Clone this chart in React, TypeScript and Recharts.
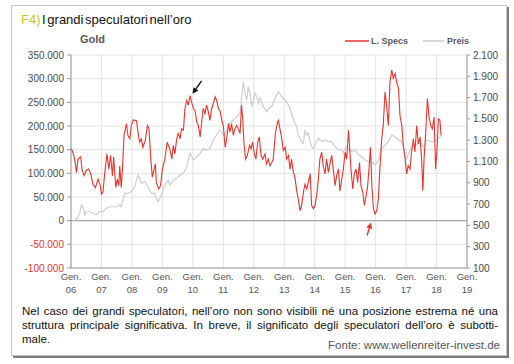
import React from 'react';
import { LineChart, Line, XAxis, YAxis, CartesianGrid, ReferenceLine, ReferenceDot } from 'recharts';

// axis ticks
const yearTicks = [2006, 2007, 2008, 2009, 2010, 2011, 2012, 2013, 2014, 2015, 2016, 2017, 2018, 2019];
const specsTicks = [-100, -50, 0, 50, 100, 150, 200, 250, 300, 350]; // thousands of contracts
const priceTicks = [100, 300, 500, 700, 900, 1100, 1300, 1500, 1700, 1900, 2100];

// large speculators net position (thousands)
const specsYears = [
  2006.01, 2006.07, 2006.12, 2006.18, 2006.23, 2006.32, 2006.36, 2006.43, 2006.5, 2006.58, 2006.65, 2006.72, 2006.8, 2006.89, 2006.96,
  2007.0, 2007.05, 2007.11, 2007.18, 2007.24, 2007.3, 2007.36, 2007.4, 2007.47, 2007.52, 2007.57, 2007.6, 2007.65, 2007.69, 2007.74, 2007.82, 2007.87, 2007.93, 2007.98,
  2008.04, 2008.15, 2008.2, 2008.25, 2008.31, 2008.36, 2008.44, 2008.51, 2008.56, 2008.62, 2008.67, 2008.73, 2008.77, 2008.8, 2008.88, 2008.94,
  2009.0, 2009.08, 2009.16, 2009.24, 2009.31, 2009.36, 2009.41, 2009.47, 2009.52, 2009.58, 2009.63, 2009.69, 2009.74, 2009.8, 2009.85, 2009.91, 2009.96,
  2010.02, 2010.07, 2010.13, 2010.18, 2010.24, 2010.29, 2010.34, 2010.4, 2010.45, 2010.51, 2010.56, 2010.62, 2010.67, 2010.73, 2010.78, 2010.84, 2010.89, 2010.95,
  2011.0, 2011.06, 2011.11, 2011.17, 2011.22, 2011.27, 2011.33, 2011.38, 2011.44, 2011.49, 2011.55, 2011.6, 2011.64, 2011.68, 2011.73, 2011.79, 2011.86, 2011.91, 2011.96,
  2012.02, 2012.07, 2012.13, 2012.18, 2012.24, 2012.29, 2012.37, 2012.42, 2012.48, 2012.53, 2012.59, 2012.64, 2012.71, 2012.78, 2012.81, 2012.86, 2012.92, 2012.97,
  2013.03, 2013.08, 2013.14, 2013.19, 2013.24, 2013.3, 2013.35, 2013.41, 2013.46, 2013.52, 2013.57, 2013.63, 2013.68, 2013.74, 2013.79, 2013.85, 2013.9, 2013.96,
  2014.01, 2014.07, 2014.12, 2014.17, 2014.23, 2014.28, 2014.34, 2014.39, 2014.45, 2014.5, 2014.56, 2014.61, 2014.67, 2014.72, 2014.78, 2014.83, 2014.89, 2014.94,
  2015.0, 2015.05, 2015.11, 2015.15, 2015.19, 2015.25, 2015.3, 2015.36, 2015.41, 2015.47, 2015.52, 2015.58, 2015.63, 2015.69, 2015.74, 2015.79, 2015.83, 2015.88, 2015.93, 2015.98,
  2016.04, 2016.09, 2016.14, 2016.2, 2016.25, 2016.31, 2016.36, 2016.42, 2016.47, 2016.53, 2016.58, 2016.64, 2016.69, 2016.75, 2016.8, 2016.86, 2016.91, 2016.97,
  2017.02, 2017.07, 2017.13, 2017.18, 2017.24, 2017.29, 2017.35, 2017.4, 2017.46, 2017.51, 2017.55, 2017.59, 2017.64, 2017.7, 2017.75, 2017.81, 2017.86, 2017.92, 2017.97,
  2018.01, 2018.06, 2018.11, 2018.15,
];
const specsValues = [
  152, 143, 130, 102, 130, 135, 109, 95, 106, 109, 99, 77, 70, 88, 74,
  56, 61, 102, 141, 109, 138, 95, 135, 70, 88, 74, 116, 70, 109, 180, 205, 180, 173, 201,
  213, 211, 187, 166, 173, 155, 170, 201, 194, 130, 92, 109, 120, 81, 67, 74,
  109, 130, 166, 152, 130, 159, 141, 173, 184, 173, 194, 191, 237, 254, 244, 264, 250,
  237, 233, 208, 201, 177, 208, 237, 226, 244, 230, 212, 237, 247, 262, 254, 237, 233, 212,
  201, 155, 173, 205, 187, 205, 180, 194, 201, 194, 184, 244, 212, 162, 130, 138, 159, 152, 166,
  141, 130, 166, 177, 138, 130, 141, 120, 130, 116, 123, 130, 185, 208, 212, 194, 173, 148,
  155, 130, 138, 109, 130, 102, 92, 63, 46, 21, 32, 60, 77, 67, 81, 99, 32, 25,
  32, 56, 88, 130, 145, 116, 99, 130, 102, 120, 138, 109, 74, 95, 109, 63, 88, 109,
  145, 130, 191, 152, 109, 67, 99, 109, 81, 123, 74, 60, 32, 53, 74, 116, 155, 70, 25, 14,
  22, 46, 109, 173, 201, 272, 244, 201, 293, 318, 301, 311, 293, 279, 222, 201, 159, 130,
  99, 116, 109, 145, 173, 145, 201, 162, 177, 130, 63, 130, 180, 258, 222, 201, 194, 219, 109,
  145, 215, 212, 180,
];

// gold price (USD), right axis
const priceYears = [
  2006.01, 2006.18, 2006.29, 2006.34, 2006.39, 2006.45, 2006.5, 2006.61, 2006.72, 2006.83, 2006.94,
  2007.05, 2007.16, 2007.27, 2007.38, 2007.49, 2007.6, 2007.65, 2007.76, 2007.87, 2007.98,
  2008.09, 2008.2, 2008.25, 2008.31, 2008.42, 2008.53, 2008.64, 2008.75, 2008.8, 2008.86, 2008.97,
  2009.08, 2009.19, 2009.25, 2009.36, 2009.47, 2009.58, 2009.69, 2009.8, 2009.91,
  2010.02, 2010.13, 2010.24, 2010.34, 2010.45, 2010.56, 2010.67, 2010.78, 2010.89,
  2011.0, 2011.11, 2011.22, 2011.33, 2011.44, 2011.55, 2011.6, 2011.66, 2011.71, 2011.77, 2011.82, 2011.88, 2011.93, 2011.99,
  2012.04, 2012.1, 2012.15, 2012.21, 2012.31, 2012.42, 2012.48, 2012.59, 2012.7, 2012.81, 2012.92,
  2013.03, 2013.14, 2013.24, 2013.35, 2013.41, 2013.46, 2013.57, 2013.63, 2013.68, 2013.74, 2013.79, 2013.85, 2013.9, 2013.96,
  2014.01, 2014.07, 2014.12, 2014.17, 2014.23, 2014.34, 2014.45, 2014.56, 2014.67, 2014.78, 2014.89, 2014.94,
  2015.0, 2015.05, 2015.11, 2015.21, 2015.32, 2015.43, 2015.54, 2015.65, 2015.76, 2015.87, 2015.98,
  2016.09, 2016.2, 2016.31, 2016.42, 2016.53, 2016.64, 2016.75, 2016.86, 2016.91, 2016.97,
  2017.02, 2017.13, 2017.24, 2017.35, 2017.46, 2017.57, 2017.68, 2017.79, 2017.9,
  2018.01, 2018.11, 2018.15,
];
const priceValues = [
  535, 560, 616, 692, 675, 598, 628, 628, 616, 598, 628,
  628, 660, 675, 675, 675, 692, 675, 801, 801, 817,
  863, 973, 942, 895, 910, 863, 801, 801, 754, 723, 785,
  879, 926, 879, 926, 942, 973, 989, 1051, 1177,
  1114, 1145, 1177, 1224, 1208, 1224, 1302, 1349, 1396,
  1349, 1380, 1459, 1490, 1521, 1553, 1708, 1849, 1740, 1677, 1802, 1740, 1615, 1677,
  1740, 1708, 1646, 1700, 1615, 1568, 1599, 1615, 1693, 1755, 1708,
  1677, 1630, 1553, 1459, 1427, 1349, 1286, 1271, 1396, 1349, 1365, 1286, 1239, 1224,
  1255, 1286, 1318, 1302, 1286, 1302, 1286, 1286, 1239, 1208, 1208, 1177,
  1224, 1239, 1208, 1193, 1208, 1161, 1146, 1114, 1098, 1098, 1067,
  1114, 1224, 1255, 1286, 1349, 1333, 1302, 1290, 1239, 1145,
  1130, 1208, 1255, 1260, 1271, 1239, 1302, 1290, 1286,
  1302, 1333, 1330,
];

const specsData = specsYears.map((t, i) => ({ t, v: specsValues[i] }));
const priceData = priceYears.map((t, i) => ({ t, p: priceValues[i] }));

const FONT = '"Liberation Sans", Arial, sans-serif';
const RED = '#e8342c';
const GREY_LINE = '#cdcdcd';

const fmtSpecs = (v: number) => (v === 0 ? '0' : `${v}.000`);
const fmtPrice = (v: number) =>
  v >= 1000 ? `${Math.floor(v / 1000)}.${String(v % 1000).padStart(3, '0')}` : `${v}`;

const LeftTick = (props: any) => {
  const { x, y, payload } = props;
  const v = payload.value;
  return (
    <text x={x} y={y} dy={3.5} textAnchor="end" fontSize={10} fontFamily={FONT} fill={v < 0 ? RED : '#4a4a4a'}>
      {fmtSpecs(v)}
    </text>
  );
};

const RightTick = (props: any) => {
  const { x, y, payload } = props;
  return (
    <text x={x} y={y} dy={3.5} textAnchor="start" fontSize={10} fontFamily={FONT} fill="#4a4a4a">
      {fmtPrice(payload.value)}
    </text>
  );
};

const YearTick = (props: any) => {
  const { x, y, payload } = props;
  const yy = String(payload.value).slice(2);
  return (
    <text x={x} y={y} textAnchor="middle" fontSize={9.5} fontFamily={FONT} fill="#555">
      <tspan x={x} dy={11.5}>Gen.</tspan>
      <tspan x={x} dy={13}>{yy}</tspan>
    </text>
  );
};

// arrow whose tip sits on the reference point, tail offset by (dx, dy)
const arrowShape = (dx: number, dy: number, color: string) => (props: any) => {
  const { cx, cy } = props;
  const len = Math.hypot(dx, dy);
  const ux = -dx / len;
  const uy = -dy / len;
  const hl = 6;
  const hw = 3;
  const bx = cx - ux * hl;
  const by = cy - uy * hl;
  const px = -uy;
  const py = ux;
  return (
    <g>
      <line x1={cx + dx} y1={cy + dy} x2={bx} y2={by} stroke={color} strokeWidth={1.4} />
      <polygon points={`${cx},${cy} ${bx + px * hw},${by + py * hw} ${bx - px * hw},${by - py * hw}`} fill={color} />
    </g>
  );
};

const App: React.FC = () => {
  return (
    <div style={{ position: 'fixed', left: 0, top: 0, width: 514, height: 364, background: '#fff', fontFamily: FONT, overflow: 'hidden' }}>
      {/* frame */}
      <div
        style={{
          position: 'absolute', left: 11, top: 5, width: 494, height: 349,
          border: '1px solid #c4c4c4', boxShadow: '2px 2px 0 #7d7d7d',
        }}
      />
      {/* title */}
      <div style={{ position: 'absolute', left: 21, top: 12, fontSize: 13, color: '#111', wordSpacing: -2, whiteSpace: 'nowrap' }}>
        <span style={{ color: '#c9c520' }}>F4)</span> I grandi speculatori nell’oro
      </div>
      {/* panel header */}
      <div style={{ position: 'absolute', left: 80, top: 33, fontSize: 11, fontWeight: 'bold', color: '#5a5a5a' }}>Gold</div>
      <div style={{ position: 'absolute', left: 345, top: 36, fontSize: 9, fontWeight: 'bold', color: '#5a5a5a', display: 'flex', alignItems: 'center', whiteSpace: 'nowrap' }}>
        <span style={{ display: 'inline-block', width: 24, height: 2, background: '#ec6a63', marginRight: 2 }} />
        <span>L. Specs</span>
        <span style={{ display: 'inline-block', width: 21, height: 2, background: '#d8d8d8', marginLeft: 15, marginRight: 3 }} />
        <span>Preis</span>
      </div>

      <div style={{ position: 'absolute', left: 0, top: 0 }}>
        <LineChart width={514} height={300} margin={{ top: 55, right: 2, bottom: 2, left: 11 }}>
          <CartesianGrid stroke="#e3e3e3" strokeWidth={1} />
          <XAxis
            dataKey="t"
            type="number"
            domain={[2006, 2019]}
            ticks={yearTicks}
            interval={0}
            height={30}
            tickLine={false}
            tickSize={0}
            tickMargin={0}
            axisLine={{ stroke: '#9a9a9a' }}
            tick={<YearTick />}
            allowDataOverflow
          />
          <YAxis
            type="number"
            domain={[-100, 350]}
            ticks={specsTicks}
            interval={0}
            width={60}
            tickSize={4}
            tickMargin={3}
            tickLine={{ stroke: '#9a9a9a' }}
            axisLine={{ stroke: '#9a9a9a' }}
            tick={<LeftTick />}
            allowDataOverflow
          />
          <YAxis
            yAxisId="right"
            orientation="right"
            type="number"
            domain={[100, 2100]}
            ticks={priceTicks}
            interval={0}
            width={45}
            tickSize={3}
            tickMargin={3}
            tickLine={{ stroke: '#9a9a9a' }}
            axisLine={{ stroke: '#9a9a9a' }}
            tick={<RightTick />}
            allowDataOverflow
          />
          <ReferenceLine y={0} stroke="#a6a6a6" strokeWidth={1.3} />
          <Line
            yAxisId="right"
            data={priceData}
            dataKey="p"
            type="linear"
            stroke={GREY_LINE}
            strokeWidth={1.2}
            dot={false}
            isAnimationActive={false}
          />
          <Line
            data={specsData}
            dataKey="v"
            type="linear"
            stroke={RED}
            strokeWidth={1.1}
            dot={false}
            isAnimationActive={false}
          />
          <ReferenceDot x={2009.99} y={268} r={0} shape={arrowShape(9, -13, '#111')} />
          <ReferenceDot x={2015.85} y={-4} r={0} shape={arrowShape(-4, 13, RED)} />
        </LineChart>
      </div>

      {/* commentary */}
      <div style={{ position: 'absolute', left: 22, top: 304, width: 476, fontSize: 11.5, lineHeight: '14px', color: '#111' }}>
        <div style={{ textAlign: 'justify', textAlignLast: 'justify', whiteSpace: 'nowrap' }}>
          Nel caso dei grandi speculatori, nell’oro non sono visibili né una posizione estrema né una
        </div>
        <div style={{ textAlign: 'justify', textAlignLast: 'justify', whiteSpace: 'nowrap' }}>
          struttura principale significativa. In breve, il significato degli speculatori dell’oro è subotti-
        </div>
        <div>male.</div>
      </div>
      <div style={{ position: 'absolute', right: 14, top: 339, fontSize: 11.5, color: '#555' }}>
        Fonte: www.wellenreiter-invest.de
      </div>
    </div>
  );
};

export default App;
